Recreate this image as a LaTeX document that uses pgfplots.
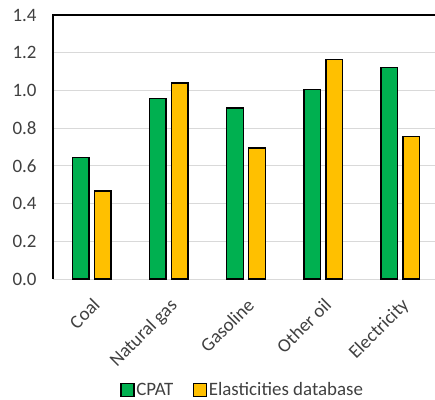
\documentclass[border=0pt]{standalone}
\usepackage{pgfplots}
\pgfplotsset{compat=1.18}
\usepackage{fontspec}
\setmainfont{Carlito}
\definecolor{cpatgreen}{HTML}{00B050}
\definecolor{elasyellow}{HTML}{FFC000}
\definecolor{labelgray}{HTML}{404040}
\definecolor{gridgray}{HTML}{D9D9D9}
\newcommand{\fsz}{\fontsize{19}{22}\selectfont}

\begin{document}
\begin{tikzpicture}
\useasboundingbox (0,0) rectangle (435bp,400bp);
\begin{axis}[
    at={(53bp,121bp)}, anchor=south west,
    scale only axis,
    width=382bp, height=264bp,
    xmin=-0.5, xmax=4.45,
    ymin=0, ymax=1.4,
    ytick={0,0.2,...,1.4},
    xtick={0,1,2,3,4},
    xticklabels={Coal,Natural gas,Gasoline,Other oil,Electricity},
    major tick length=0pt,
    axis line style={draw=none},
    ymajorgrids,
    grid style={gridgray, line width=1bp},
    ybar,
    bar width=16.6bp,
    tick label style={font=\fsz, text=labelgray},
    yticklabel style={/pgf/number format/fixed, /pgf/number format/zerofill,
        /pgf/number format/precision=1, /pgf/number format/assume math mode=true,
        xshift=-13bp},
    % shifts act in the rotated frame: (-10.6,-10.6) moves the label straight down
    xticklabel style={rotate=45, anchor=north east, inner sep=2bp,
        xshift=-10.6bp, yshift=-10.6bp},
    legend style={font=\fsz, text=labelgray, draw=none, fill=none,
        at={(0.496,-0.42)}, anchor=center, legend columns=-1,
        nodes={inner sep=1.5bp},
        /tikz/every even column/.append style={column sep=18bp}},
    legend image code/.code={\draw[#1, line width=1.4bp] (0bp,-6.5bp) rectangle (13bp,6.5bp);},
    clip=false,
]
\addplot[fill=cpatgreen, draw=black, line width=1.4bp, bar shift=-11bp]
    coordinates {(0,0.645) (1,0.956) (2,0.907) (3,1.006) (4,1.122)};
\addplot[fill=elasyellow, draw=black, line width=1.4bp, bar shift=11bp]
    coordinates {(0,0.466) (1,1.039) (2,0.695) (3,1.165) (4,0.755)};
\legend{CPAT, Elasticities database}
\draw[black, line width=1.5bp] (rel axis cs:0,0) -- (rel axis cs:0,1) -- (rel axis cs:1,1);
\end{axis}
\end{tikzpicture}
\end{document}
